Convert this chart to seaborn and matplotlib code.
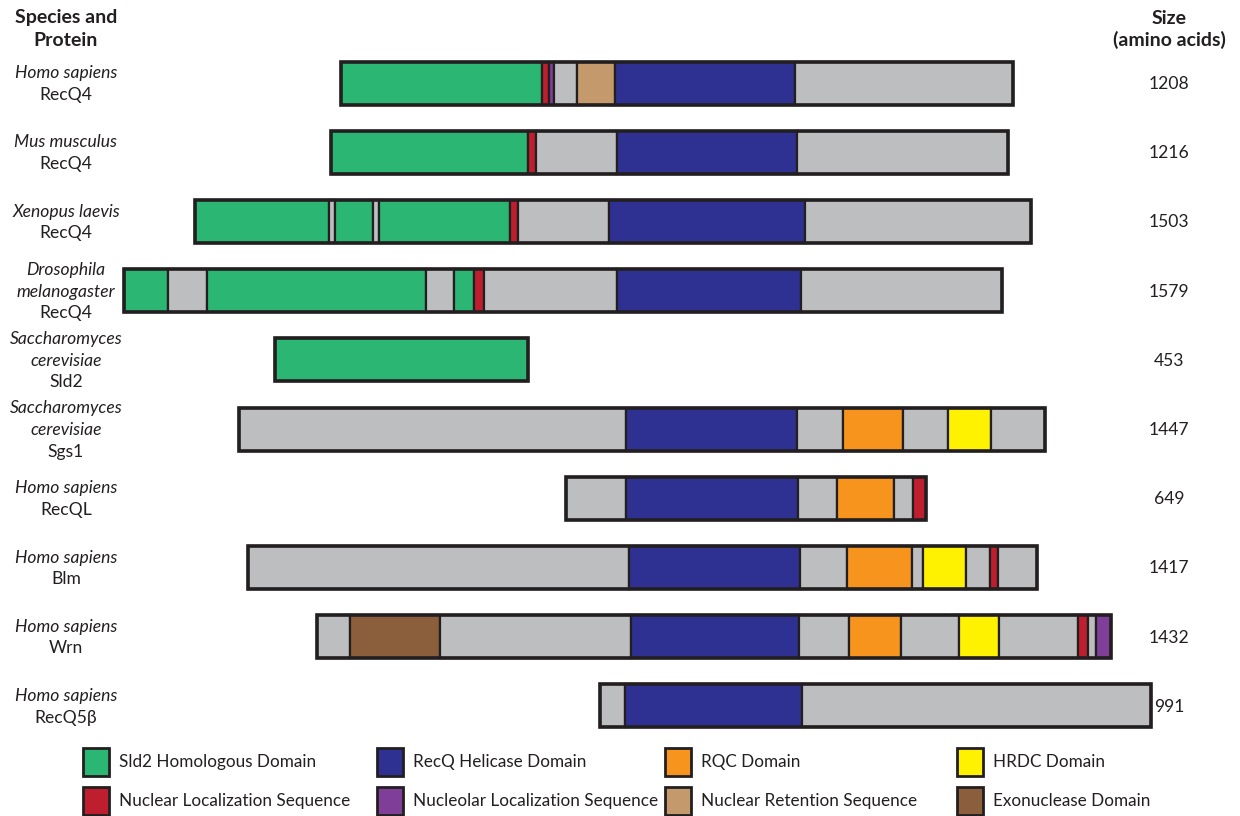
import matplotlib
matplotlib.use("Agg")
import matplotlib.pyplot as plt
from matplotlib.patches import Rectangle
import seaborn as sns

# Domain colours
DOMAIN_COLORS = {
    "sld2": "#2bb673",
    "helicase": "#2e3192",
    "rqc": "#f7941d",
    "hrdc": "#fff200",
    "nls": "#be1e2d",
    "nols": "#7f3f98",
    "nrs": "#c49a6c",
    "exo": "#8b5e3c",
    "other": "#bcbec0",
}

# Legend entries (row-major, 4 per row)
LEGEND_KEYS = ["sld2", "helicase", "rqc", "hrdc", "nls", "nols", "nrs", "exo"]
LEGEND_LABELS = [
    "Sld2 Homologous Domain",
    "RecQ Helicase Domain",
    "RQC Domain",
    "HRDC Domain",
    "Nuclear Localization Sequence",
    "Nucleolar Localization Sequence",
    "Nuclear Retention Sequence",
    "Exonuclease Domain",
]

# Protein labels and sizes
SPECIES = [
    ["Homo sapiens"],
    ["Mus musculus"],
    ["Xenopus laevis"],
    ["Drosophila", "melanogaster"],
    ["Saccharomyces", "cerevisiae"],
    ["Saccharomyces", "cerevisiae"],
    ["Homo sapiens"],
    ["Homo sapiens"],
    ["Homo sapiens"],
    ["Homo sapiens"],
]
PROTEINS = ["RecQ4", "RecQ4", "RecQ4", "RecQ4", "Sld2", "Sgs1", "RecQL", "Blm", "Wrn", "RecQ5\u03b2"]
SIZES = ["1208", "1216", "1503", "1579", "453", "1447", "649", "1417", "1432", "991"]

# Segment boundaries (diagram units) and domain per segment
hs_recq4_edges = [341, 542, 549, 554, 577, 615, 795, 1013]
hs_recq4_domains = ["sld2", "nls", "nols", "other", "nrs", "helicase", "other"]

mm_recq4_edges = [331, 528, 536, 617, 797, 1008]
mm_recq4_domains = ["sld2", "nls", "other", "helicase", "other"]

xl_recq4_edges = [195, 329, 335, 373, 379, 510, 518, 609, 805, 1031]
xl_recq4_domains = ["sld2", "other", "sld2", "other", "sld2", "nls", "other", "helicase", "other"]

dm_recq4_edges = [124, 168, 207, 426, 454, 474, 484, 617, 801, 1002]
dm_recq4_domains = ["sld2", "other", "sld2", "other", "sld2", "nls", "other", "helicase", "other"]

sc_sld2_edges = [275, 528]
sc_sld2_domains = ["sld2"]

sc_sgs1_edges = [239, 626, 797, 843, 903, 948, 991, 1045]
sc_sgs1_domains = ["other", "helicase", "other", "rqc", "other", "hrdc", "other"]

hs_recql_edges = [566, 626, 798, 837, 894, 913, 926]
hs_recql_domains = ["other", "helicase", "other", "rqc", "other", "nls"]

hs_blm_edges = [248, 629, 800, 847, 912, 923, 966, 990, 998, 1037]
hs_blm_domains = ["other", "helicase", "other", "rqc", "other", "hrdc", "other", "nls", "other"]

hs_wrn_edges = [317, 350, 440, 631, 799, 849, 901, 959, 999, 1078, 1088, 1096, 1111]
hs_wrn_domains = ["other", "exo", "other", "helicase", "other", "rqc", "other", "hrdc",
                  "other", "nls", "other", "nols"]

hs_recq5b_edges = [600, 625, 802, 1151]
hs_recq5b_domains = ["other", "helicase", "other"]

ALL_EDGES = [hs_recq4_edges, mm_recq4_edges, xl_recq4_edges, dm_recq4_edges, sc_sld2_edges,
             sc_sgs1_edges, hs_recql_edges, hs_blm_edges, hs_wrn_edges, hs_recq5b_edges]
ALL_DOMAINS = [hs_recq4_domains, mm_recq4_domains, xl_recq4_domains, dm_recq4_domains,
               sc_sld2_domains, sc_sgs1_domains, hs_recql_domains, hs_blm_domains,
               hs_wrn_domains, hs_recq5b_domains]

sns.set_theme(style="white")
plt.rcParams["font.family"] = ["Lato", "DejaVu Sans"]

OUTLINE = "#231f20"
W, H = 1240, 816
fig = plt.figure(figsize=(W / 100, H / 100), dpi=100)
ax = fig.add_axes([0, 0, 1, 1])
ax.set_xlim(0, W)
ax.set_ylim(H, 0)
ax.axis("off")

ROW_Y0 = 83
ROW_STEP = 69.2
BAR_H = 43
FS = 12.6
LFS = 12.3
HFS = 14

for i, (edges, domains) in enumerate(zip(ALL_EDGES, ALL_DOMAINS)):
    yc = ROW_Y0 + i * ROW_STEP
    lefts = edges[:-1]
    widths = [b - a for a, b in zip(edges[:-1], edges[1:])]
    colors = [DOMAIN_COLORS[d] for d in domains]
    ax.barh([yc] * len(lefts), widths, left=lefts, height=BAR_H, color=colors,
            edgecolor=OUTLINE, linewidth=1.6)
    # thicker outer box
    ax.barh(yc, edges[-1] - edges[0], left=edges[0], height=BAR_H, fill=False,
            edgecolor=OUTLINE, linewidth=2.6)

    lines = [(s, "italic") for s in SPECIES[i]] + [(PROTEINS[i], "normal")]
    n = len(lines)
    step = 21.5
    for k, (txt, style) in enumerate(lines):
        y = yc + 1 + (k - (n - 1) / 2) * step
        ax.text(66, y, txt, ha="center", va="center", fontsize=FS, style=style,
                color=OUTLINE)
    ax.text(1169, yc + 1, SIZES[i], ha="center", va="center", fontsize=FS, color=OUTLINE)

# headers
ax.text(66, 18, "Species and", ha="center", va="center", fontsize=HFS, fontweight="bold",
        color=OUTLINE)
ax.text(66, 40, "Protein", ha="center", va="center", fontsize=HFS, fontweight="bold",
        color=OUTLINE)
ax.text(1169, 18, "Size", ha="center", va="center", fontsize=HFS, fontweight="bold",
        color=OUTLINE)
ax.text(1169, 40, "(amino acids)", ha="center", va="center", fontsize=HFS,
        fontweight="bold", color=OUTLINE)

# legend
SWATCH_X = [83, 377, 665, 957]
LEG_Y = [762, 801]
for j, (key, label) in enumerate(zip(LEGEND_KEYS, LEGEND_LABELS)):
    col, row = j % 4, j // 4
    x0, yc = SWATCH_X[col], LEG_Y[row]
    ax.add_patch(Rectangle((x0, yc - 14), 26, 28, facecolor=DOMAIN_COLORS[key],
                           edgecolor=OUTLINE, linewidth=2))
    ax.text(x0 + 36, yc, label, ha="left", va="center", fontsize=LFS, color=OUTLINE)

fig.savefig("out.png", dpi=100)
